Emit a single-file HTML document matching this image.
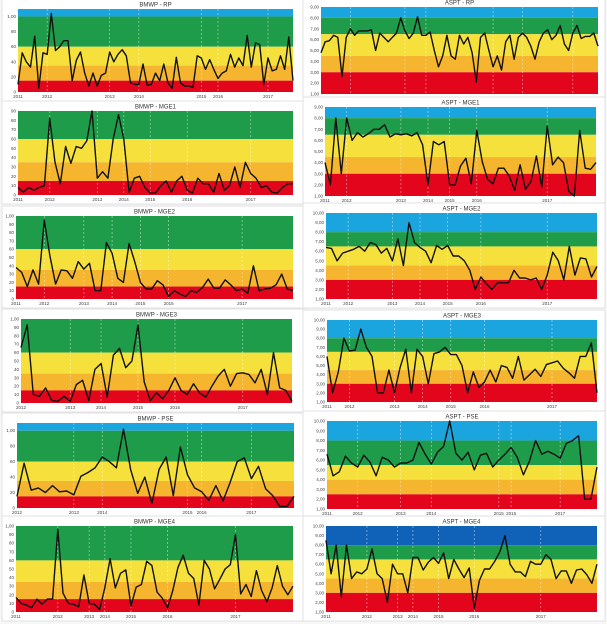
<!DOCTYPE html>
<html><head><meta charset="utf-8">
<style>
html,body{margin:0;padding:0;background:#fff;}
svg{display:block;font-family:"Liberation Sans",sans-serif;}
</style></head>
<body>
<svg id="fig" width="607" height="624" viewBox="0 0 607 624" xmlns="http://www.w3.org/2000/svg">
<rect x="0" y="0" width="607" height="624" fill="#f7f7f7"/>
</svg>
<script>
// ---- data ----
const valsBmwpRp=[10,52,40,33,74,5,52,50,104,55,60,68,68,15,42,53,25,8,25,8,22,25,53,40,50,56,48,12,10,10,37,9,10,25,15,37,12,5,46,12,8,8,6,48,45,30,43,30,18,25,28,50,33,45,35,75,33,65,63,10,45,28,30,48,30,73,15];
const valsAsptRp=[4.8,5.8,5.9,6.4,6.2,2.6,6.2,7.0,6.4,6.8,6.8,6.8,6.9,5.0,6.6,6.2,5.8,6.2,6.6,8.0,6.8,6.1,6.6,8.1,6.4,6.4,6.7,5.0,3.5,4.5,6.4,4.5,4.2,6.4,5.6,6.2,4.8,2.1,6.2,6.6,5.0,3.5,4.5,3.2,5.8,6.4,4.2,6.2,6.6,6.2,5.4,4.2,5.8,6.6,6.9,6.0,6.4,7.3,5.6,5.0,6.6,7.3,6.1,6.3,6.3,6.6,5.4];
const valsBmwpMge1=[8,3,8,5,8,10,82,35,12,52,34,52,50,58,90,18,25,18,60,86,60,3,18,20,8,2,2,10,15,3,15,20,5,2,18,12,12,3,23,5,10,30,8,35,23,18,8,10,3,2,8,12,12];
const valsAsptMge1=[4,2,8,3,8,6,6.7,6.3,6.6,7,7,7.4,6.3,6.6,6.5,6.6,6.4,6.7,5.6,2,5.9,5.6,5.9,2,2,3.7,4.4,2.1,6.9,4.1,2.5,2.1,3.5,3.5,2.8,1.5,3.8,1.6,2.3,4.6,1.8,7.3,3.8,4.5,4,1.4,1,6.9,3.5,3.4,4];
const valsBmwpMge2=[38,32,15,35,18,95,52,18,35,34,25,45,36,43,10,10,68,55,25,20,67,45,20,12,12,22,17,3,10,6,3,10,8,14,24,13,13,23,17,10,12,7,40,10,12,13,17,30,12,10];
const valsAsptMge2=[6.4,6.3,5.0,5.8,6.0,6.2,6.5,6.0,6.9,6.7,5.8,6.3,5.0,7.3,4.5,9.0,6.9,6.4,6.0,4.8,6.6,6.2,6.6,5.5,5.5,5.0,4.0,2.0,3.3,2.6,2.0,2.7,2.7,2.7,4.0,3.2,3.2,3.0,3.2,2.0,3.5,5.9,5.0,3.0,6.5,3.5,5.3,5.2,3.3,4.4];
const valsBmwpMge3=[66,93,10,8,18,3,2,8,2,22,27,3,40,47,7,57,65,42,50,93,25,3,12,5,15,30,15,10,23,12,7,20,32,40,20,35,36,34,24,40,10,60,18,15,2];
const valsAsptMge3=[6.0,2.0,4.3,8.0,6.6,6.7,9.0,7.0,6.0,2.0,2.0,4.5,2.0,4.8,6.8,2.0,6.8,6.0,3.0,6.3,6.5,7.0,6.2,6.2,5.0,2.0,4.3,2.6,3.2,4.5,3.2,5.0,4.8,3.6,6.0,3.4,4.0,4.6,3.8,5.1,5.3,5.5,4.7,4.2,3.6,6.0,6.0,7.5,2.0];
const valsBmwpPse=[15,58,23,26,20,29,21,22,17,41,46,52,66,60,52,102,50,19,40,6,50,66,16,79,43,26,21,10,29,9,33,60,65,38,54,25,16,2,2,15];
const valsAsptPse=[6.6,4.4,4.8,6.4,5.7,5.3,6.5,5.8,4.4,6.3,6.0,5.3,5.7,5.7,6.0,7.8,6.6,5.6,6.8,7.4,10.0,6.7,6.0,6.8,5.0,6.5,6.7,5.3,6.0,6.6,7.3,6.3,4.5,5.9,8.0,6.6,6.9,6.6,6.2,7.7,8.0,8.5,2.0,2.0,5.3];
const valsBmwpMge4=[17,10,8,5,15,9,15,15,96,22,10,9,6,43,10,9,3,28,62,28,45,49,7,29,32,59,54,23,16,5,25,52,66,45,39,8,60,50,27,38,50,55,90,21,32,18,48,25,12,28,54,30,20,30];
const valsAsptMge4=[8.5,5.0,8.0,2.6,8.0,4.5,5.2,5.0,5.5,7.6,5.0,4.5,2.0,6.0,5.0,5.0,3.0,6.7,6.7,5.4,6.2,6.7,6.1,7.2,4.5,6.5,5.5,4.6,5.6,1.4,4.3,5.5,5.5,6.3,7.3,9.0,6.0,5.2,5.2,4.7,6.3,6.0,6.0,7.0,6.5,4.5,5.3,5.3,4.0,5.4,5.5,4.9,4.0,6.0];
const bmwpTicks=[0,20,40,60,80,100];
const bmwpTicks10=[0,10,20,30,40,50,60,70,80,90];
const bmwpTicks10b=[0,10,20,30,40,50,60,70,80,90,100];
const asptTicks9=[1,2,3,4,5,6,7,8,9];
const asptTicks10=[1,2,3,4,5,6,7,8,9,10];
const bmwpThresholds=[100,60,35,15];
const asptThresholds=[8,6.5,4.5,3];
const asptPseThresholds=[8,5.5,4,2.5];
const yearLabels=["2011","2012","2013","2014","2015","2016","2017"];

const C={blue:"#1ba5de",dblue:"#0f62b8",green:"#1f9c4a",yellow:"#f6e13c",orange:"#f5b52f",red:"#e2051c"};
const svg=document.getElementById('fig');
const NS="http://www.w3.org/2000/svg";
function mk(tag,attrs,parent){const e=document.createElementNS(NS,tag);for(const k in attrs)e.setAttribute(k,attrs[k]);(parent||svg).appendChild(e);return e;}

const panels=[
 {t:"BMWP - RP",v:valsBmwpRp,x0:18,x1:293,y0:9,y1:92,min:0,max:110,th:bmwpThresholds,ticks:bmwpTicks,aspt:false,yr:[0,7,22,29,44,48,60]},
 {t:"ASPT - RP",v:valsAsptRp,x0:321,x1:598,y0:7,y1:94,min:1,max:9,th:asptThresholds,ticks:asptTicks9,aspt:true,yr:[0,7,20,25,41,48,60]},
 {t:"BMWP - MGE1",v:valsBmwpMge1,x0:18,x1:293,y0:111,y1:195,min:0,max:90,th:bmwpThresholds,ticks:bmwpTicks10,aspt:false,yr:[0,6,15,20,25,32,44]},
 {t:"ASPT - MGE1",v:valsAsptMge1,x0:325,x1:596,y0:107,y1:196,min:1,max:9,th:asptThresholds,ticks:asptTicks9,aspt:true,yr:[0,4,14,19,23,28,41]},
 {t:"BMWP - MGE2",v:valsBmwpMge2,x0:16,x1:293,y0:216,y1:299,min:0,max:100,th:bmwpThresholds,ticks:bmwpTicks10b,aspt:false,yr:[0,5,12,17,22,27,40]},
 {t:"ASPT - MGE2",v:valsAsptMge2,x0:326,x1:597,y0:213,y1:299,min:1,max:10,th:asptThresholds,ticks:asptTicks10,aspt:true,yr:[0,4,12,17,22,28,40]},
 {t:"BMWP - MGE3",v:valsBmwpMge3,x0:21,x1:292,y0:319,y1:403,min:0,max:100,th:bmwpThresholds,ticks:bmwpTicks10b,aspt:false,yr:[-3,0,8,13,19,25,36]},
 {t:"ASPT - MGE3",v:valsAsptMge3,x0:327,x1:597,y0:320,y1:402,min:1,max:10,th:asptThresholds,ticks:asptTicks10,aspt:true,yr:[0,4,12,17,22,28,40]},
 {t:"BMWP - PSE",v:valsBmwpPse,x0:17,x1:294,y0:423,y1:508,min:0,max:110,th:bmwpThresholds,ticks:bmwpTicks,aspt:false,yr:[-3,0,8,12,24,26,33]},
 {t:"ASPT - PSE",v:valsAsptPse,x0:327,x1:597,y0:421,y1:509,min:1,max:10,th:asptPseThresholds,ticks:asptTicks10,aspt:true,yr:[0,5,12,17,28,30,38]},
 {t:"BMWP - MGE4",v:valsBmwpMge4,x0:16,x1:293,y0:526,y1:612,min:0,max:100,th:bmwpThresholds,ticks:bmwpTicks10b,aspt:false,yr:[0,8,14,17,22,29,42]},
 {t:"ASPT - MGE4",v:valsAsptMge4,x0:326,x1:597,y0:526,y1:612,min:1,max:10,th:asptThresholds,ticks:asptTicks10,aspt:true,dark:true,yr:[0,8,14,17,22,29,42]}
];

panels.forEach((p,pi)=>{
  const slug=p.t.toLowerCase().replace(/[^a-z0-9]+/g,'-');
  const g=mk('g',{});
  
  
  const left=p.x0<300?2:303, w=302;
  const card=mk('rect',{x:left,y:p.y0-10,width:w,height:(p.y1-p.y0)+19,fill:"#fff",stroke:"#e2e2e2","stroke-width":1},g);
  
  
  const Y=v=>p.y1-(Math.max(p.min,Math.min(p.max,v))-p.min)/(p.max-p.min)*(p.y1-p.y0);
  const X=i=>p.x0+i/(p.v.length-1)*(p.x1-p.x0);
  const bounds=[p.max].concat(p.th,[p.min]);
  const cols=[p.dark?C.dblue:C.blue,C.green,C.yellow,C.orange,C.red];
  const names=['excellent','good','moderate','poor','bad'];
  for(let b=0;b<5;b++){
    const hi=bounds[b],lo=bounds[b+1];
    if(hi<=lo)continue;
    const r=mk('rect',{x:p.x0,y:Y(hi),width:p.x1-p.x0,height:Y(lo)-Y(hi),fill:cols[b]},g);
    
    
  }
  p.yr.forEach((idx,k)=>{
    if(idx<0)return;
    const x=X(idx);
    if(idx>0){const l=mk('line',{x1:x,x2:x,y1:p.y0,y2:p.y1,stroke:"#fff","stroke-width":0.7,"stroke-dasharray":"2,2",opacity:0.55},g);
      
      }
    const t=mk('text',{x:x,y:p.y1+6,"font-size":4.5,fill:"#444","text-anchor":"middle"},g);
    t.textContent=yearLabels[k];
    
    
  });
  p.ticks.forEach(v=>{
    const t=mk('text',{x:p.x0-2,y:Y(v)+1.5,"font-size":4.5,fill:"#444","text-anchor":"end"},g);
    t.textContent=p.aspt?v.toFixed(2).replace('.',','):(v>=100?"1,00":String(v));
    
    
  });
  const tt=mk('text',{x:(p.x0+p.x1)/2,y:p.y0-2.5,"font-size":6,fill:"#333","text-anchor":"middle"},g);
  tt.textContent=p.t;
  
  
  const pts=p.v.map((v,i)=>X(i).toFixed(1)+','+Y(v).toFixed(1)).join(' ');
  const pl=mk('polyline',{points:pts,fill:"none",stroke:"#111","stroke-width":1.4,"stroke-linejoin":"round"},g);
  
  
});
</script>
</body></html>
